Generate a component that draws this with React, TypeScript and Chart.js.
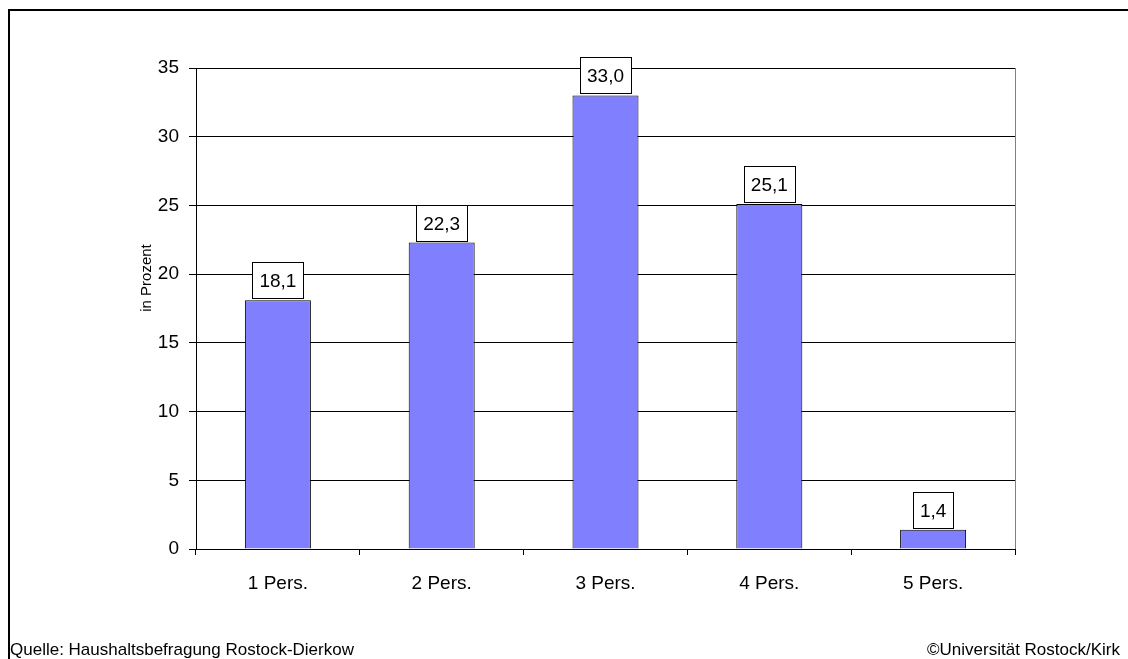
import React, { useEffect, useRef } from "react";
import { Chart, registerables } from "chart.js";

Chart.register(...registerables);

const categories = ["1 Pers.", "2 Pers.", "3 Pers.", "4 Pers.", "5 Pers."];
const values = [18.1, 22.3, 33.0, 25.1, 1.4];
const yTicks = [0, 5, 10, 15, 20, 25, 30, 35];
const yTitle = "in Prozent";
const sourceText = "Quelle: Haushaltsbefragung Rostock-Dierkow";
const copyrightText = "©Universität Rostock/Kirk";

const FONT = "'Liberation Sans', Arial, sans-serif";

const decorPlugin = {
  id: "decor",
  beforeDraw(chart: any) {
    const ctx = chart.ctx;
    ctx.save();
    ctx.fillStyle = "#ffffff";
    ctx.fillRect(0, 0, chart.width, chart.height);
    ctx.restore();
  },
  afterDraw(chart: any) {
    const ctx = chart.ctx;
    const area = chart.chartArea;
    ctx.save();
    // outer frame
    ctx.strokeStyle = "#000000";
    ctx.lineWidth = 2;
    ctx.beginPath();
    ctx.moveTo(9, chart.height);
    ctx.lineTo(9, 10);
    ctx.lineTo(chart.width, 10);
    ctx.stroke();
    // right border of plot
    ctx.strokeStyle = "#808080";
    ctx.lineWidth = 1;
    ctx.beginPath();
    ctx.moveTo(Math.round(area.right) + 0.5, area.top);
    ctx.lineTo(Math.round(area.right) + 0.5, area.bottom);
    ctx.stroke();
    // y title
    ctx.fillStyle = "#000000";
    ctx.font = `15px ${FONT}`;
    ctx.textAlign = "center";
    ctx.textBaseline = "middle";
    ctx.translate(147, 278);
    ctx.rotate(-Math.PI / 2);
    ctx.fillText(yTitle, 0, 0);
    ctx.restore();
    // footer
    ctx.save();
    ctx.fillStyle = "#000000";
    ctx.font = `17px ${FONT}`;
    ctx.textBaseline = "alphabetic";
    ctx.textAlign = "left";
    ctx.fillText(sourceText, 10, 655);
    ctx.textAlign = "right";
    ctx.fillText(copyrightText, 1120, 655);
    ctx.restore();
  },
  afterDatasetsDraw(chart: any) {
    const ctx = chart.ctx;
    const meta = chart.getDatasetMeta(0);
    ctx.save();
    ctx.font = `19px ${FONT}`;
    ctx.textAlign = "center";
    ctx.textBaseline = "middle";
    meta.data.forEach((bar: any, i: number) => {
      const txt = values[i].toFixed(1).replace(".", ",");
      const tw = ctx.measureText(txt).width;
      const w = Math.round(tw + 14);
      const h = 36;
      const x = Math.round(bar.x - w / 2) + 0.5;
      const y = Math.round(bar.y - 2 - h) + 0.5;
      ctx.fillStyle = "#ffffff";
      ctx.fillRect(x, y, w, h);
      ctx.strokeStyle = "#000000";
      ctx.lineWidth = 1;
      ctx.strokeRect(x, y, w, h);
      ctx.fillStyle = "#000000";
      ctx.fillText(txt, bar.x, y + h / 2 + 1);
    });
    ctx.restore();
  },
};

export default function App() {
  const ref = useRef<HTMLCanvasElement>(null);
  useEffect(() => {
    if (!ref.current) return;
    const chart = new Chart(ref.current, {
      type: "bar",
      data: {
        labels: categories,
        datasets: [
          {
            data: values,
            backgroundColor: "#8080FF",
            borderColor: "#000000",
            borderWidth: 1,
            categoryPercentage: 1,
            barPercentage: 0.403,
          },
        ],
      },
      options: {
        responsive: false,
        animation: false,
        devicePixelRatio: 1,
        layout: { padding: { left: 0, top: 68, right: 113, bottom: 0 } },
        plugins: {
          legend: { display: false },
          tooltip: { enabled: false },
        },
        scales: {
          x: {
            offset: true,
            grid: {
              offset: true,
              drawOnChartArea: false,
              drawTicks: true,
              tickLength: 6,
              color: "#000000",
            },
            border: { display: true, color: "#000000", width: 1 },
            ticks: {
              color: "#000000",
              font: { family: FONT, size: 19 },
              padding: 17,
              maxRotation: 0,
            },
            afterFit(scale: any) {
              scale.height = 110;
            },
          },
          y: {
            min: 0,
            max: 35,
            afterBuildTicks(scale: any) {
              scale.ticks = yTicks.map((v) => ({ value: v }));
            },
            grid: {
              color: "#000000",
              lineWidth: 1,
              tickLength: 7,
            },
            border: { display: true, color: "#000000", width: 1 },
            ticks: {
              color: "#000000",
              font: { family: FONT, size: 19 },
              padding: 10,
            },
            afterFit(scale: any) {
              scale.width = 196;
            },
          },
        },
      },
      plugins: [decorPlugin],
    });
    return () => chart.destroy();
  }, []);
  return (
    <div style={{ position: "absolute", left: 0, top: 0, width: 1128, height: 659 }}>
      <canvas ref={ref} width={1128} height={659} style={{ display: "block" }} />
    </div>
  );
}
